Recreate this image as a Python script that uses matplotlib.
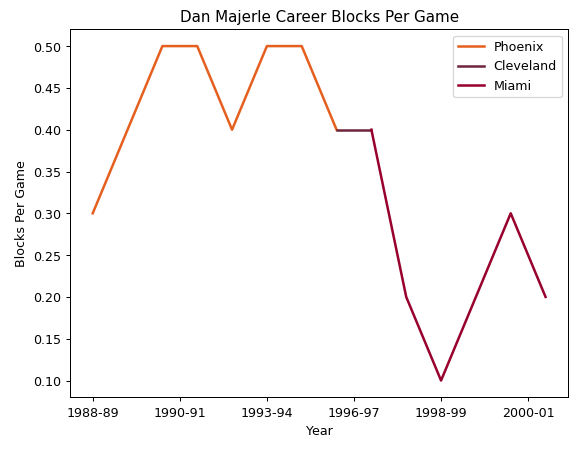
import matplotlib
matplotlib.use("Agg")
import matplotlib.pyplot as plt

phx_x = [0, 1, 2, 3, 4, 5, 6, 7]
phx_y = [0.3, 0.4, 0.5, 0.5, 0.4, 0.5, 0.5, 0.4]
cle_x = [7, 8]
cle_y = [0.4, 0.4]
mia_x = [8, 9, 10, 11, 12, 13]
mia_y = [0.4, 0.2, 0.1, 0.2, 0.3, 0.2]

tick_pos = [0, 2.5, 5, 7.5, 10, 12.5]
tick_labels = ["1988-89", "1990-91", "1993-94", "1996-97", "1998-99", "2000-01"]

fig, ax = plt.subplots(figsize=(6.4, 5.0))
fig.subplots_adjust(left=0.121, right=0.981, top=0.934, bottom=0.121)
ax.plot(phx_x, phx_y, color="#e5601f", lw=2, label="Phoenix")
ax.plot(cle_x, cle_y, color="#6f263d", lw=2, label="Cleveland")
ax.plot(mia_x, mia_y, color="#98002e", lw=2, label="Miami")
ax.set_xticks(tick_pos)
ax.set_xticklabels(tick_labels)
ax.set_title("Dan Majerle Career Blocks Per Game")
ax.set_xlabel("Year")
ax.set_ylabel("Blocks Per Game")
ax.legend(loc="upper right")
fig.savefig("out.png", dpi=90.5)
